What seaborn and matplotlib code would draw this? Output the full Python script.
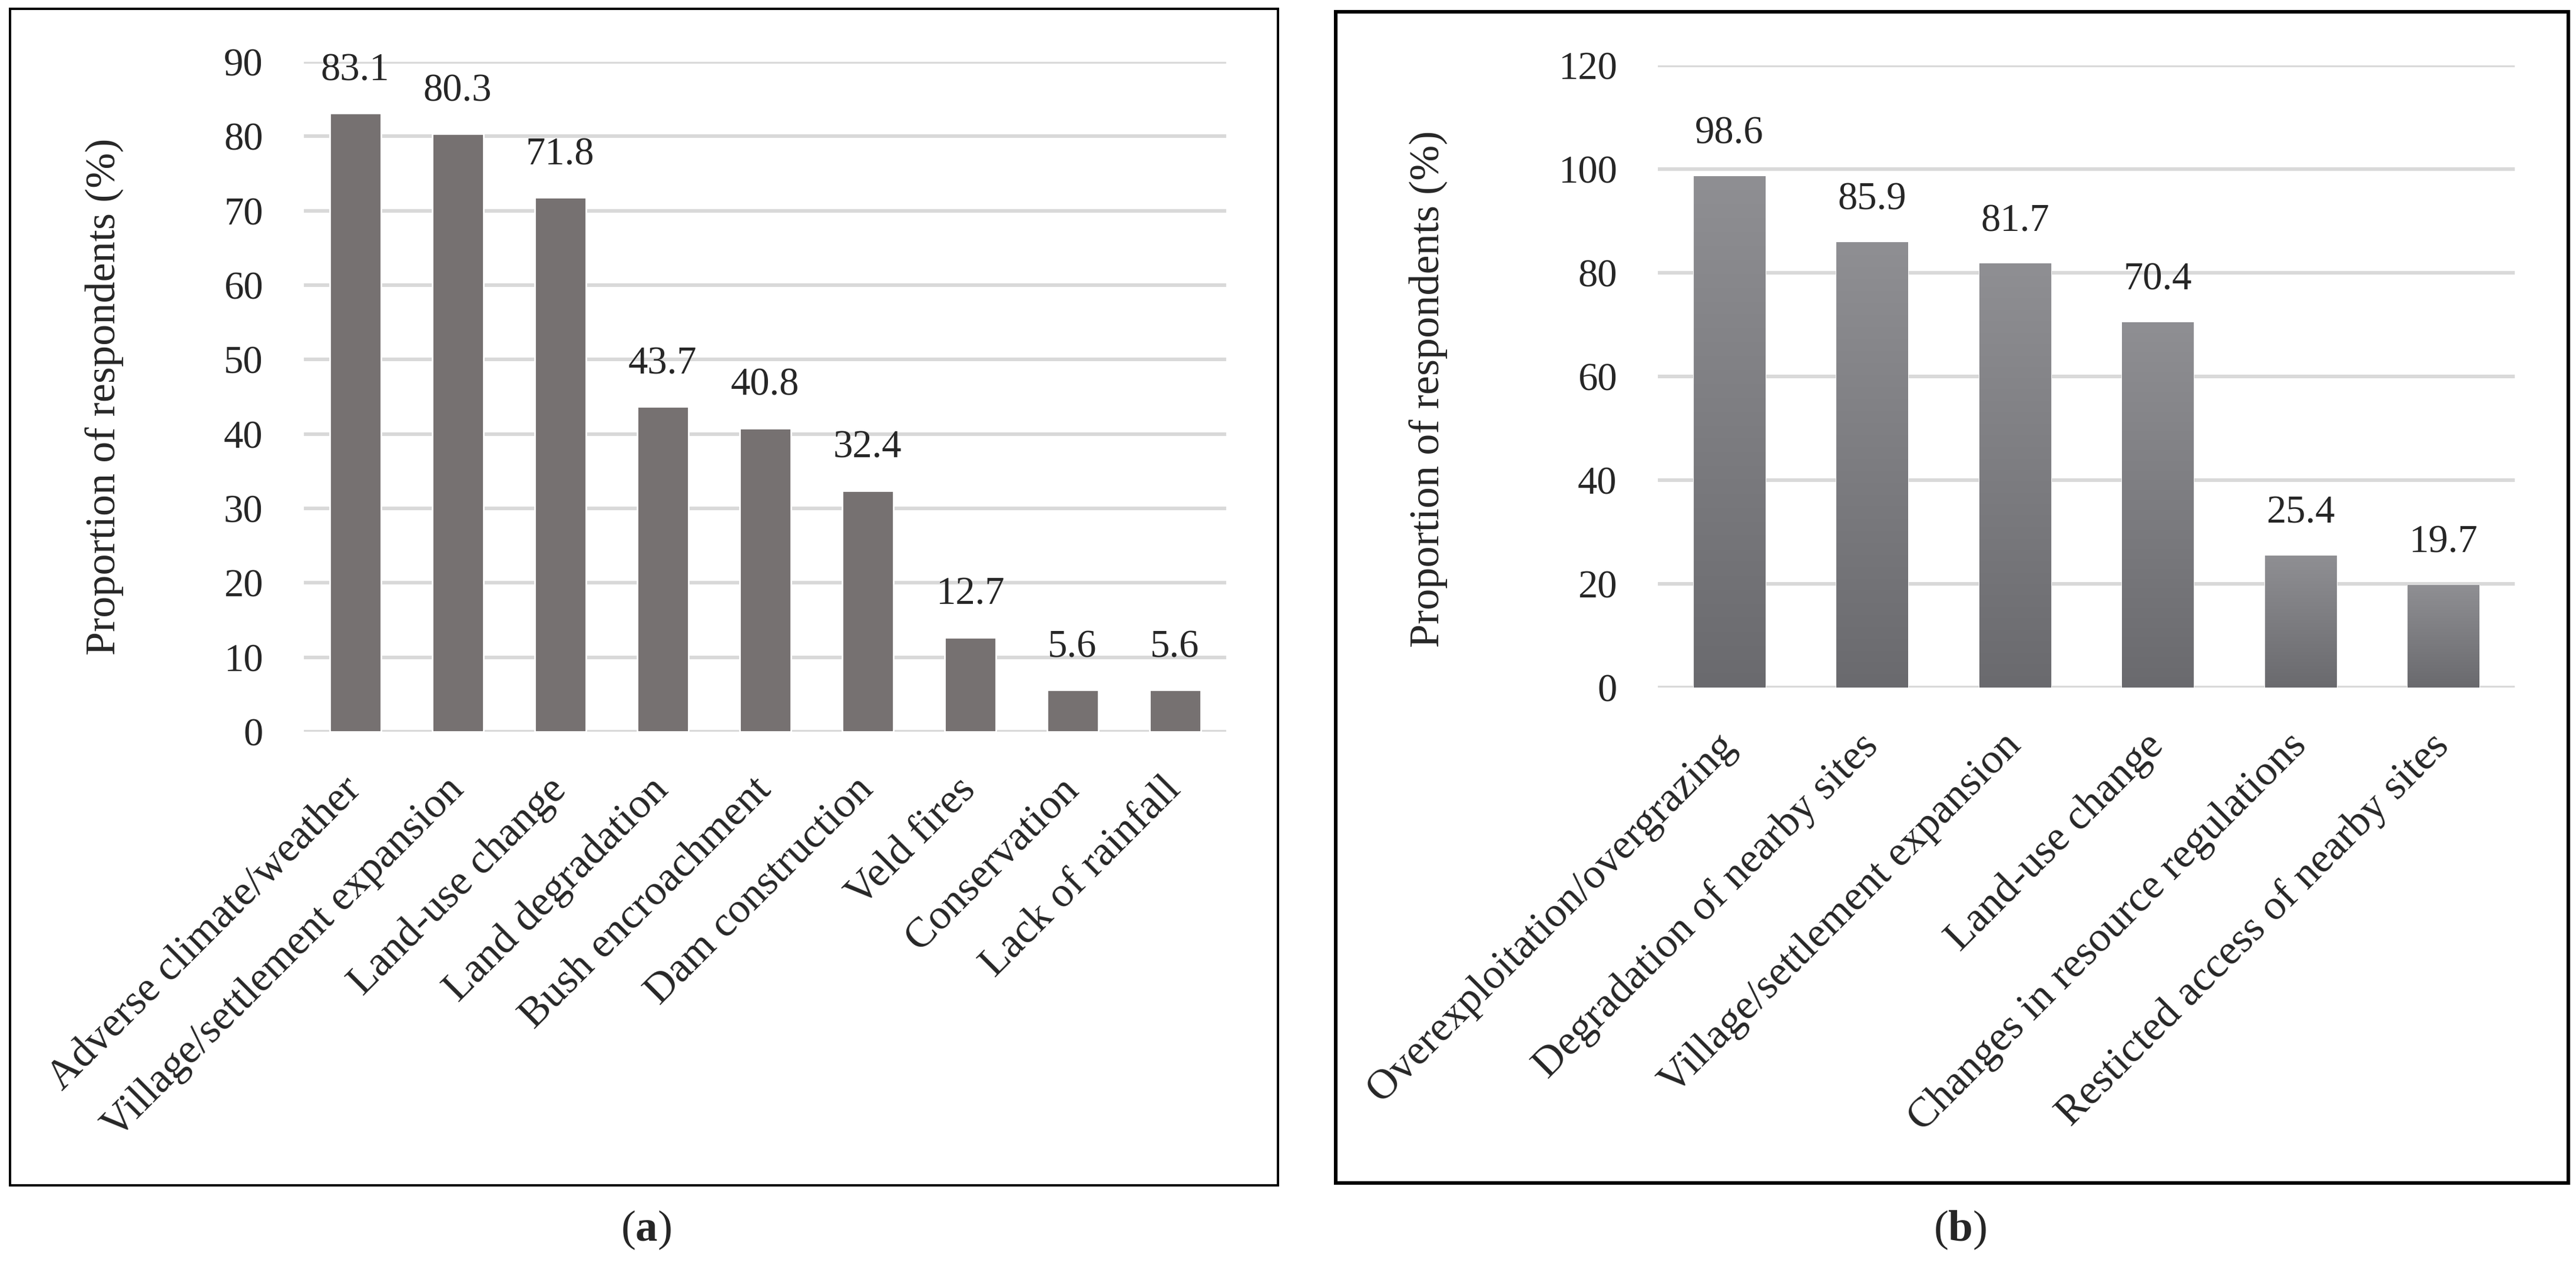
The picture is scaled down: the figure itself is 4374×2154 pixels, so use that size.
import numpy as np
import seaborn as sns
import matplotlib.pyplot as plt
from matplotlib.patches import Rectangle
from matplotlib.colors import LinearSegmentedColormap

# panel (a): causes of decline
causes_a = ["Adverse climate/weather", "Village/settlement expansion", "Land-use change",
            "Land degradation", "Bush encroachment", "Dam construction", "Veld fires",
            "Conservation", "Lack of rainfall"]
pct_a = [83.1, 80.3, 71.8, 43.7, 40.8, 32.4, 12.7, 5.6, 5.6]
yticks_a = [0, 10, 20, 30, 40, 50, 60, 70, 80, 90]

# panel (b): threats
causes_b = ["Overexploitation/overgrazing", "Degradation of nearby sites",
            "Village/settlement expansion", "Land-use change",
            "Changes in resource regulations", "Resticted access of nearby sites"]
pct_b = [98.6, 85.9, 81.7, 70.4, 25.4, 19.7]
yticks_b = [0, 20, 40, 60, 80, 100, 120]

ylab = "Proportion of respondents (%)"

sns.set_style("white")
plt.rcParams['font.family'] = ['Liberation Serif', 'DejaVu Serif']
plt.rcParams['mathtext.fontset'] = 'custom'
plt.rcParams['mathtext.rm'] = 'Liberation Serif'
plt.rcParams['mathtext.bf'] = 'Liberation Serif:bold'

FS = 24      # tick numbers and bar values
FS_CAT = 26  # category names and axis title
fig = plt.figure(figsize=(21.87, 10.77), dpi=200)

def style_axis(ax, cats, ticks, labx, laby):
    ax.set_axisbelow(True)
    ax.yaxis.grid(True, color="#d9d9d9", lw=2.2)
    ax.set_yticks(ticks)
    ax.set_ylim(ticks[0], ticks[-1])
    ax.set_xlim(-0.5, len(cats) - 0.5)
    ax.tick_params(axis="y", length=0, pad=25, labelsize=FS)
    ax.tick_params(axis="x", length=0, pad=32, labelsize=FS_CAT)
    ax.set_xticks(range(len(cats)))
    ax.set_xticklabels(cats, rotation=45, ha="right", va="center", rotation_mode="anchor")
    ax.set_xlabel("")
    ax.set_ylabel(ylab, fontsize=FS_CAT)
    ax.yaxis.set_label_coords(labx, laby)
    sns.despine(ax=ax, left=True, bottom=True)

# (a)
ax1 = fig.add_axes([0.118, 0.4234, 0.358, 0.5279])
sns.barplot(x=causes_a, y=pct_a, color="#767171", saturation=1, width=0.5, ax=ax1)
for c in ax1.containers:
    ax1.bar_label(c, fmt="%.1f", padding=15, fontsize=FS)
style_axis(ax1, causes_a, yticks_a, -0.195, 0.5)

# (b) bars with vertical grey gradient
ax2 = fig.add_axes([0.6436, 0.4582, 0.3326, 0.4903])
sns.barplot(x=causes_b, y=pct_b, color="#7c7c80", saturation=1, width=0.5, ax=ax2)
grad = LinearSegmentedColormap.from_list("bargrey", ["#6a6a6e", "#8f8f93"])
for p in ax2.patches:
    x0, w, h = p.get_x(), p.get_width(), p.get_height()
    ax2.imshow(np.linspace(0, 1, 256).reshape(-1, 1), cmap=grad, origin="lower",
               extent=[x0, x0 + w, 0, h], aspect="auto", zorder=p.get_zorder())
    p.set_facecolor("none")
for c in ax2.containers:
    ax2.bar_label(c, fmt="%.1f", padding=15, fontsize=FS)
style_axis(ax2, causes_b, yticks_b, -0.245, 0.48)

# panel frames
fig.add_artist(Rectangle((0.0039, 0.0659), 0.4922, 0.9271, transform=fig.transFigure,
                         fill=False, ec="black", lw=1.4))
fig.add_artist(Rectangle((0.5185, 0.0678), 0.4785, 0.9229, transform=fig.transFigure,
                         fill=False, ec="black", lw=2.2))

fig.text(0.2508, 0.0306, r"($\mathbf{a}$)", ha="center", va="center", fontsize=27)
fig.text(0.7609, 0.0306, r"($\mathbf{b}$)", ha="center", va="center", fontsize=27)

fig.savefig("out.png", dpi=200, facecolor="white")
